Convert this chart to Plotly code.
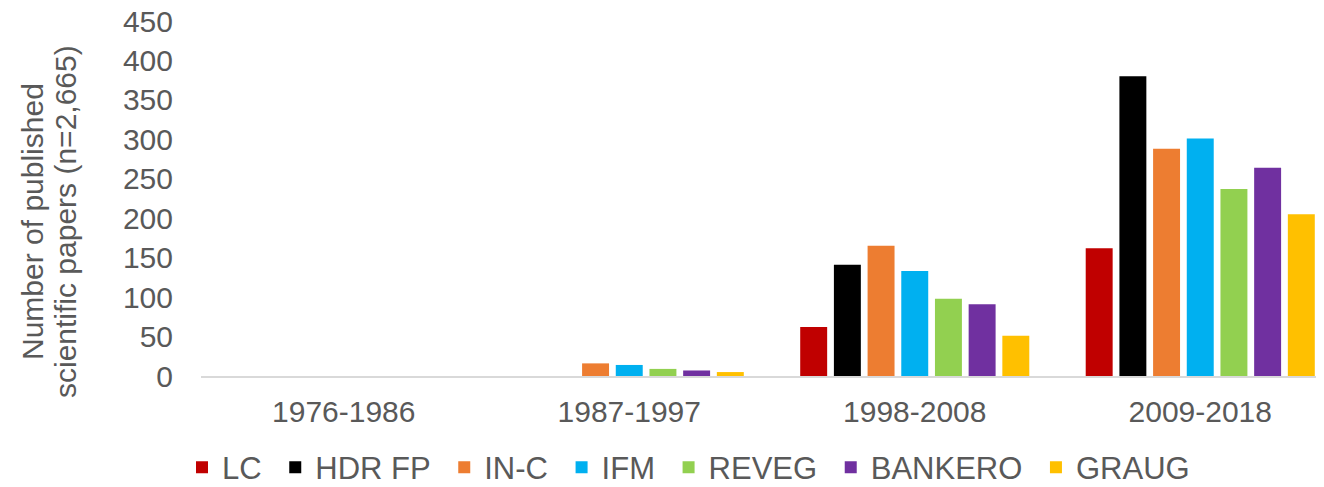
import plotly.graph_objects as go

categories = ["1976-1986", "1987-1997", "1998-2008", "2009-2018"]
series_names = ["LC", "HDR FP", "IN-C", "IFM", "REVEG", "BANKERO", "GRAUG"]
lc = [0, 0, 62, 162]
hdr_fp = [0, 0, 141, 380]
in_c = [0, 16, 165, 288]
ifm = [0, 14, 133, 301]
reveg = [0, 9, 98, 237]
bankero = [0, 7, 91, 264]
graug = [0, 5, 51, 205]
y_ticks = [0, 50, 100, 150, 200, 250, 300, 350, 400, 450]
axis_title_lines = ["Number of published", "scientific papers (n=2,665)"]

series_values = [lc, hdr_fp, in_c, ifm, reveg, bankero, graug]
colors = ["#C00000", "#000000", "#ED7D31", "#00B0F0", "#92D050", "#7030A0", "#FFC000"]

FONT = "Liberation Sans, Arial, sans-serif"
GREY = "#595959"
FS = 30
LEG_FS = 31

fig = go.Figure()
n = len(series_names)
for i, (name, vals, col) in enumerate(zip(series_names, series_values, colors)):
    label = name + ("\u00a0" if i < n - 1 else "")
    fig.add_trace(go.Bar(x=categories, y=vals, name=label,
                         marker=dict(color=col, line=dict(width=0))))

# page body has an 8px margin, so the figure is offset by 8px in the window
OFF = 8
W, H = 1324 - OFF, 487 - OFF
L, R, T, B = 201 - OFF, 0, 21 - OFF, 111
plot_w = W - L - R
plot_h = H - T - B

fig.update_layout(
    width=W, height=H,
    margin=dict(l=L, r=R, t=T, b=B, pad=0, autoexpand=False),
    paper_bgcolor="white", plot_bgcolor="white",
    barmode="group", bargap=0.174, bargroupgap=0.2,
    font=dict(family=FONT, size=FS, color=GREY),
    showlegend=True,
    legend=dict(orientation="h", x=(182 - 201) / plot_w, xanchor="left",
                y=(375.5 - 467) / plot_h, yanchor="middle",
                font=dict(family=FONT, size=LEG_FS, color=GREY),
                itemwidth=30, traceorder="normal", bgcolor="rgba(0,0,0,0)"),
    xaxis=dict(range=[-0.5, 3.5 - (1343 - 1324) / 285.5], showgrid=False, zeroline=False,
               automargin=False, ticklabeloverflow="allow",
               showline=True, linecolor="#D9D9D9", linewidth=2, ticks="",
               tickfont=dict(family=FONT, size=FS, color=GREY), ticklabelstandoff=8),
    yaxis=dict(range=[0, 450], tickvals=y_ticks, showgrid=False, zeroline=False,
               automargin=False, ticklabeloverflow="allow",
               showline=False, ticks="", tickfont=dict(family=FONT, size=FS, color=GREY),
               ticklabelstandoff=27),
)

for line, xc in zip(axis_title_lines, [32.5, 65.5]):
    fig.add_annotation(text=line, xref="paper", yref="paper",
                       x=(xc - 201) / plot_w, y=(375.5 - 221) / plot_h,
                       xanchor="center", yanchor="middle", textangle=-90, showarrow=False,
                       font=dict(family=FONT, size=FS, color=GREY))

fig.write_html("out.html")
